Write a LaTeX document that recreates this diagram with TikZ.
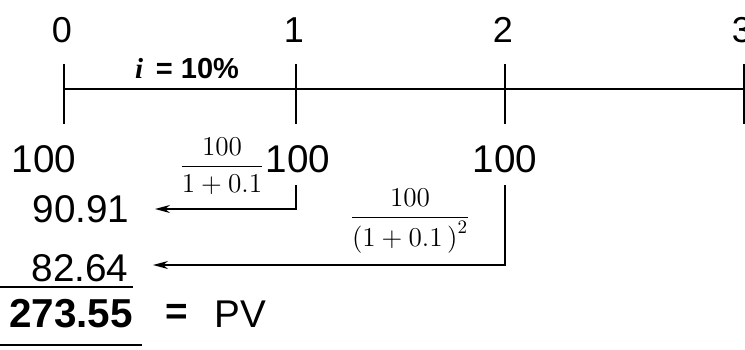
\RequirePackage{fix-cm}
\documentclass[tikz,border=0pt]{standalone}
\usepackage{amsmath}
\usepackage{fontspec}
\setmainfont{Liberation Sans}
\newfontfamily\termsfont{Liberation Serif}
\usetikzlibrary{arrows.meta}

\begin{document}
\begin{tikzpicture}[
    x=0.02cm, y=-0.02cm,
    period/.style={font=\fontsize{20.5}{22}\selectfont, inner sep=0pt},
    cash/.style={font=\fontsize{22}{24}\selectfont, inner sep=0pt},
    frac/.style={font=\fontsize{15.5}{17}\selectfont, inner sep=0pt},
    axis/.style={line width=1.1pt},
    flow/.style={-{Stealth[length=3mm, width=1.6mm]}, line width=0.8pt},
    rule/.style={line width=1.1pt}
]
    \useasboundingbox (0,0) rectangle (745,349);

    % time line
    \foreach \n/\x in {0/64,1/296,2/505,3/744} {
        \coordinate (t\n) at (\x,89);
        \draw[axis] (\x,64) -- (\x,124);
        \node[period] (p\n) at (\x-2,30) {\n};
    }
    \draw[axis] (t0) -- (t3);
    \node[font=\fontsize{16.5}{18}\selectfont\bfseries, inner sep=0pt] (rate) at (187,69)
        {{\termsfont\itshape i}\ \,= 10\%};

    % cash flows
    \node[cash] (c0) at (44,159) {100};
    \node[cash] (c1) at (298,159) {100};
    \node[cash] (c2) at (505,159) {100};
    \node[frac] (f1) at (222,166) {$\dfrac{100}{1+0.1}$};
    \node[frac] (f2) at (410,221) {$\dfrac{100}{\left(1+0.1\,\right)^{2}}$};

    % discounted values
    \node[cash] (v1) at (81,209) {90.91};
    \node[cash] (v2) at (80,268) {82.64};
    \node[cash, font=\fontsize{23}{25}\selectfont\bfseries] (pv) at (71,314) {273.55};
    \node[cash, font=\fontsize{22}{24}\selectfont\bfseries] (eq) at (177,314) {=};
    \node[cash] (pvname) at (240,314) {PV};

    \coordinate (d1) at (296,185);
    \coordinate (a1) at (155,209);
    \coordinate (d2) at (505,185);
    \coordinate (a2) at (153,265);
    \draw[flow] (d1) |- (a1);
    \draw[flow] (d2) |- (a2);

    \draw[rule] (0,287) -- (133,287);
    \draw[rule] (0,345) -- (142,345);
\end{tikzpicture}
\end{document}
